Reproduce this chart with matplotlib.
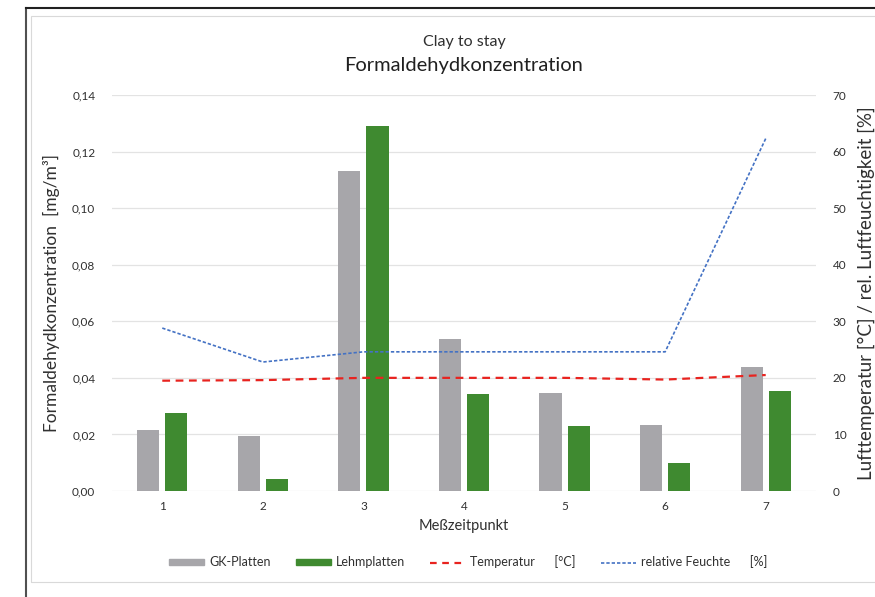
import matplotlib.pyplot as plt
import matplotlib.lines as mlines
import matplotlib.patches as mpatches

plt.rcParams['font.family'] = ['Lato', 'DejaVu Sans']

zeitpunkte = [1, 2, 3, 4, 5, 6, 7]
gk_platten = [0.0216, 0.0195, 0.113, 0.0537, 0.0345, 0.0232, 0.0440]
lehmplatten = [0.0275, 0.0042, 0.129, 0.0342, 0.0230, 0.0100, 0.0352]
temperatur = [19.5, 19.6, 20.0, 20.0, 20.0, 19.7, 20.5]
feuchte = [28.8, 22.8, 24.6, 24.6, 24.6, 24.6, 62.3]

col_gk = '#a7a6aa'
col_lehm = '#3f8a30'
col_temp = '#e8231f'
col_feuchte = '#4472c4'
txt_col = '#303030'

fig = plt.figure(figsize=(8.75, 5.97), dpi=100)

# screenshot frame
fig.add_artist(mlines.Line2D([26 / 875, 26 / 875], [0, 1 - 8 / 597], color='#505050', lw=1.5))
fig.add_artist(mlines.Line2D([26 / 875, 1], [1 - 8 / 597, 1 - 8 / 597], color='#202020', lw=1.5))
fig.add_artist(mpatches.Rectangle((31 / 875, 1 - 582 / 597), 1, (582 - 16) / 597,
                                  fill=False, ec='#d9d9d9', lw=0.8))

ax = fig.add_axes([112 / 875, 1 - 491 / 597, 704 / 875, 396 / 597])
ax2 = ax.twinx()

w = 0.22
ax.bar([x - 0.14 for x in zeitpunkte], gk_platten, width=w, color=col_gk, zorder=2)
ax.bar([x + 0.14 for x in zeitpunkte], lehmplatten, width=w, color=col_lehm, zorder=2)

ax2.plot(zeitpunkte, temperatur, color=col_temp, lw=1.6, dashes=(3.5, 2.5))
ax2.plot(zeitpunkte, feuchte, color=col_feuchte, lw=1.2, dashes=(2, 1.2))

ax.set_xlim(0.5, 7.5)
ax.set_ylim(0, 0.14)
ax2.set_ylim(0, 70)
ax.set_yticks([0, 0.02, 0.04, 0.06, 0.08, 0.10, 0.12, 0.14])
ax.set_yticklabels(['0,00', '0,02', '0,04', '0,06', '0,08', '0,10', '0,12', '0,14'])
ax2.set_yticks(range(0, 80, 10))
ax.set_xticks(zeitpunkte)
ax.yaxis.grid(True, color='#e3e3e3', lw=0.9, zorder=0)
ax.set_axisbelow(True)

for a in (ax, ax2):
    for s in a.spines.values():
        s.set_visible(False)
    a.tick_params(length=0, labelsize=8.5, labelcolor=txt_col)
ax.tick_params(axis='y', pad=12)
ax2.tick_params(axis='y', pad=12)
ax.tick_params(axis='x', pad=7)

ax.set_xlabel('Meßzeitpunkt', fontsize=10.5, color=txt_col, labelpad=5)
ax.set_ylabel('Formaldehydkonzentration  [mg/m³]', fontsize=12.5, color=txt_col, labelpad=9)
ax2.set_ylabel('Lufttemperatur [°C] / rel. Luftfeuchtigkeit [%]', fontsize=13.5, color=txt_col, labelpad=8)

xc = (112 + 816) / 2 / 875
fig.text(xc, 1 - 42 / 597, 'Clay to stay', ha='center', va='center', fontsize=11.5, color=txt_col)
fig.text(xc, 1 - 66 / 597, 'Formaldehydkonzentration', ha='center', va='center', fontsize=14.5, color='#202020')

handles = [
    mpatches.Patch(color=col_gk),
    mpatches.Patch(color=col_lehm),
    mlines.Line2D([], [], color=col_temp, lw=1.6, dashes=(3, 2.5)),
    mlines.Line2D([], [], color=col_feuchte, lw=1.2, dashes=(2, 1.2)),
]
labels = ['GK-Platten', 'Lehmplatten', 'Temperatur      [°C]', 'relative Feuchte      [%]']
fig.legend(handles, labels, loc='center', bbox_to_anchor=(0.535, 1 - 562 / 597), ncol=4,
           frameon=False, fontsize=9, labelcolor=txt_col, handlelength=2.8,
           handleheight=0.45, handletextpad=0.4, columnspacing=2.0)

fig.savefig('out.png', dpi=100)
